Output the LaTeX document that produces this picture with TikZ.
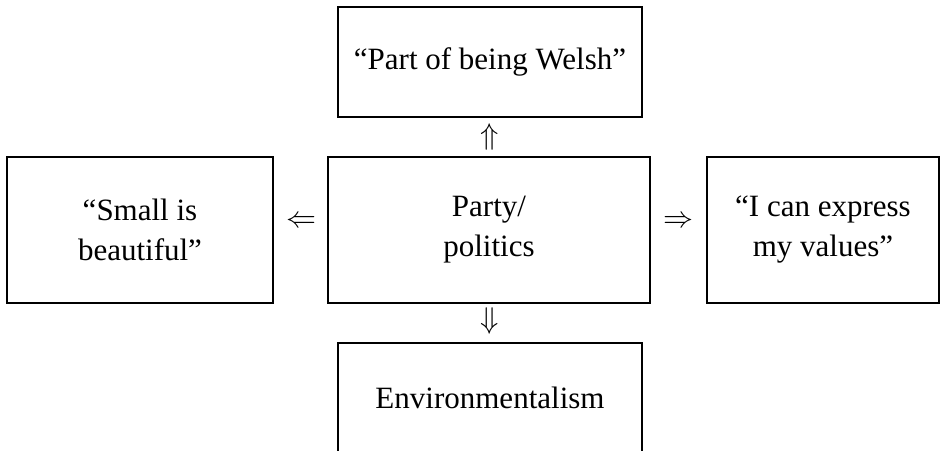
\documentclass[tikz,border=0pt]{standalone}
\usepackage{fix-cm}
\usepackage{fontspec}
\setmainfont{Liberation Serif}
\begin{document}
\begin{tikzpicture}[x=1pt,y=-1pt,
  box/.style={draw, line width=1.6pt, inner sep=0pt, align=center,
    font=\fontsize{31}{40}\selectfont},
  arr/.style={inner sep=0pt, font=\fontsize{30}{30}\selectfont}]
\useasboundingbox (0,0) rectangle (942,450);
\node[box, minimum width=304pt, minimum height=110pt] (welsh) at (490,62) {“Part of being Welsh”};
\node[box, minimum width=322pt, minimum height=146pt] (party) at (489,230) {Party/\\politics};
\node[box, minimum width=266pt, minimum height=146pt] (small) at (140,230) {“Small is\\beautiful”};
\node[box, minimum width=232pt, minimum height=146pt] (values) at (823,230) {“I can express\\my values”};
\node[box, minimum width=304pt, minimum height=110pt] (env) at (490,398) {Environmentalism};
\node[arr] (a1) at (490,137) {$\Uparrow$};
\node[arr] (a2) at (301,222) {$\Leftarrow$};
\node[arr] (a3) at (678,222) {$\Rightarrow$};
\node[arr] (a4) at (490,321) {$\Downarrow$};
\end{tikzpicture}
\end{document}
